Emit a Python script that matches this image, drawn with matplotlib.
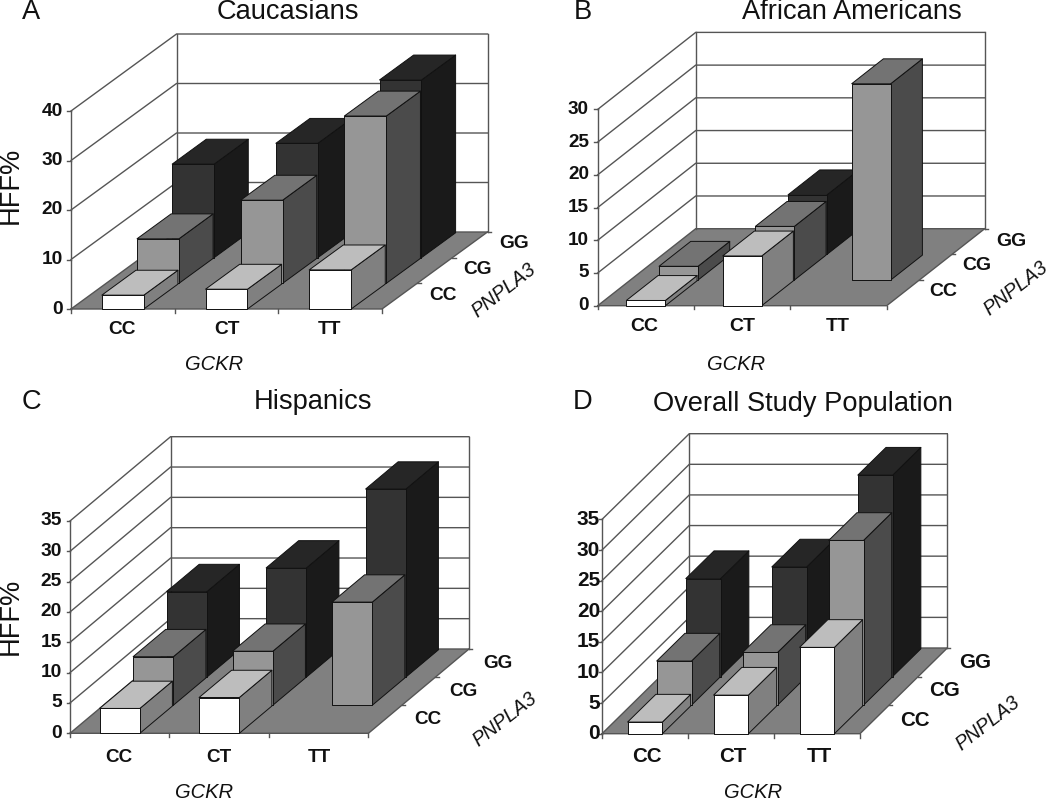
import matplotlib
matplotlib.use("Agg")
import matplotlib.pyplot as plt
from matplotlib.patches import Polygon

plt.rcParams['font.family'] = ['Liberation Sans', 'DejaVu Sans']

W, H = 1050, 800

gckr = ['CC', 'CT', 'TT']
pnpla3 = ['CC', 'CG', 'GG']

# HFF% values: one list per PNPLA3 row, ordered by GCKR CC, CT, TT
a_cc = [2.8, 4.0, 7.9]
a_cg = [9.0, 16.8, 33.8]
a_gg = [18.9, 23.1, 35.9]
a_ticks = [0, 10, 20, 30, 40]

b_cc = [0.8, 7.6, 0]
b_cg = [2.1, 8.2, 30.0]
b_gg = [0, 9.1, 0]
b_ticks = [0, 5, 10, 15, 20, 25, 30]

c_cc = [4.1, 5.9, 0]
c_cg = [8.0, 8.9, 17.0]
c_gg = [14.1, 18.0, 31.0]
c_ticks = [0, 5, 10, 15, 20, 25, 30, 35]

d_cc = [1.9, 6.3, 14.1]
d_cg = [7.2, 8.6, 26.9]
d_gg = [16.0, 17.9, 32.9]
d_ticks = [0, 5, 10, 15, 20, 25, 30, 35]

COL = {
    0: dict(front='#ffffff', top='#bdbdbd', side='#808080'),
    1: dict(front='#969696', top='#737373', side='#4b4b4b'),
    2: dict(front='#333333', top='#262626', side='#1a1a1a'),
}
FLOOR = '#808080'
GRID = '#555555'
EDGE = '#111111'
GLW = 1.0

panels = [
    dict(letter='A', title='Caucasians', rows=[a_cc, a_cg, a_gg], ticks=a_ticks,
         ox=71, oy=309, w=311, h=198, dx=105.5, dy=77, bw=0.405, ylabel=(11, 185),
         letter_xy=(31, 12), title_xy=(288, 12), gckr_xy=(214, 364), pn_xy=(504, 290),
         xl=[122, 227, 330], xl_y=329,
         dl=[(443, 296), (478, 269), (514, 243)], tick_r=63, fs_tick=13.8, fs_lab=13.8),
    dict(letter='B', title='African Americans', rows=[b_cc, b_cg, b_gg], ticks=b_ticks,
         ox=597.7, oy=305.7, w=289, h=196.3, dx=98, dy=77, bw=0.405, ylabel=None,
         letter_xy=(583, 12), title_xy=(852, 12), gckr_xy=(736, 364), pn_xy=(1016, 288),
         xl=[644, 742, 838], xl_y=327,
         dl=[(943, 292), (977, 266), (1011, 241)], tick_r=589, fs_tick=13.6, fs_lab=14),
    dict(letter='C', title='Hispanics', rows=[c_cc, c_cg, c_gg], ticks=c_ticks,
         ox=70, oy=733.3, w=298.4, h=212.3, dx=100.6, dy=84.3, bw=0.405, ylabel=(11, 616),
         letter_xy=(31, 402), title_xy=(313, 402), gckr_xy=(203.5, 792), pn_xy=(505, 719),
         xl=[119, 219, 319], xl_y=757,
         dl=[(428, 720), (463, 691), (498, 663)], tick_r=62, fs_tick=13.8, fs_lab=13.6),
    dict(letter='D', title='Overall Study Population', rows=[d_cc, d_cg, d_gg], ticks=d_ticks,
         ox=602, oy=733.7, w=258, h=214.3, dx=87.3, dy=85.7, bw=0.405, ylabel=None,
         letter_xy=(583, 402), title_xy=(803, 404), gckr_xy=(753, 792), pn_xy=(988, 723),
         xl=[647, 733, 819], xl_y=757,
         dl=[(915, 720), (945, 691), (975, 663)], tick_r=600, fs_tick=15, fs_lab=14.8),
]

fig = plt.figure(figsize=(W / 100, H / 100), dpi=100, facecolor='white')


def ftext(xy, s, **kw):
    fig.text(xy[0] / W, 1 - xy[1] / H, s, ha='center', va='center', **kw)


for p in panels:
    vmax = p['ticks'][-1]
    ax = fig.add_axes([p['ox'] / W, 1 - p['oy'] / H,
                       (p['w'] + p['dx']) / W, (p['h'] + p['dy']) / H])
    sx = p['dx'] / p['w']                 # category units per depth row
    sy = (p['dy'] / 3) / (p['h'] / vmax)  # value units per depth row
    ax.set_xlim(0, 3 + 3 * sx)
    ax.set_ylim(0, vmax + 3 * sy)
    ax.axis('off')

    def proj(cat, row, val):
        return (cat + row * sx, val + row * sy)

    # floor
    ax.add_patch(Polygon([proj(0, 0, 0), proj(3, 0, 0), proj(3, 3, 0), proj(0, 3, 0)],
                         fc=FLOOR, ec='none', zorder=1))
    # walls and gridlines
    for t in p['ticks']:
        ax.plot(*zip(proj(0, 0, t), proj(0, 3, t), proj(3, 3, t)),
                color=GRID, lw=GLW, zorder=1.5, clip_on=False, solid_joinstyle='miter')
        ax.plot(*zip(proj(0, 0, t), (proj(0, 0, t)[0] - 0.035, t)),
                color=GRID, lw=GLW, clip_on=False, zorder=1.5)
        ax.annotate(str(t), xy=(0, t), xycoords='data',
                    xytext=(p['tick_r'] - p['ox'], 0), textcoords='offset pixels',
                    ha='right', va='center', fontsize=p['fs_tick'], fontweight='bold',
                    color='#111111', annotation_clip=False)
    ax.plot(*zip(proj(0, 0, 0), proj(0, 0, vmax)), color=GRID, lw=GLW, clip_on=False, zorder=1.5)
    ax.plot(*zip(proj(0, 3, 0), proj(0, 3, vmax)), color=GRID, lw=GLW, clip_on=False, zorder=1.5)
    ax.plot(*zip(proj(3, 3, 0), proj(3, 3, vmax)), color=GRID, lw=GLW, clip_on=False, zorder=1.5)
    ax.plot(*zip(proj(0, 0, 0), proj(3, 0, 0), proj(3, 3, 0)), color=GRID, lw=GLW,
            clip_on=False, zorder=1.5)
    # axis ticks
    for c in range(4):
        x, y = proj(c, 0, 0)
        ax.plot([x, x], [y, y - vmax * 0.018], color=GRID, lw=GLW, clip_on=False)
    for r in range(1, 4):
        x, y = proj(3, r, 0)
        ax.plot([x, x + 0.035], [y, y], color=GRID, lw=GLW, clip_on=False)

    # bars, painted back to front, left to right
    bw = p['bw']
    z = 2
    for r in [2, 1, 0]:
        for c, v in enumerate(p['rows'][r]):
            if v <= 0:
                continue
            x0 = c + 0.5 - bw / 2
            x1 = x0 + bw
            r0, r1 = r, r + 0.97
            col = COL[r]
            faces = [
                ([proj(x1, r0, 0), proj(x1, r1, 0), proj(x1, r1, v), proj(x1, r0, v)], col['side']),
                ([proj(x0, r0, v), proj(x1, r0, v), proj(x1, r1, v), proj(x0, r1, v)], col['top']),
                ([proj(x0, r0, 0), proj(x1, r0, 0), proj(x1, r0, v), proj(x0, r0, v)], col['front']),
            ]
            for pts, fc in faces:
                ax.add_patch(Polygon(pts, fc=fc, ec=EDGE, lw=0.7, zorder=z, clip_on=False,
                                     joinstyle='round'))
            z += 0.01

    # labels
    for s, x in zip(gckr, p['xl']):
        ftext((x, p['xl_y']), s, fontsize=p['fs_lab'], fontweight='bold', color='#111111')
    for s, xy in zip(pnpla3, p['dl']):
        ftext(xy, s, fontsize=p['fs_lab'], fontweight='bold', color='#111111')
    ftext(p['gckr_xy'], 'GCKR', fontsize=14.5, fontstyle='italic', color='#111111')
    ftext(p['pn_xy'], 'PNPLA3', fontsize=14.2, fontstyle='italic', rotation=38,
          rotation_mode='anchor', color='#111111')
    ftext(p['letter_xy'], p['letter'], fontsize=19.6, color='#111111')
    ftext(p['title_xy'], p['title'], fontsize=19.6, color='#111111')
    if p['ylabel']:
        ftext(p['ylabel'], 'HFF%', fontsize=19.6, rotation=90, color='#111111')

fig.savefig('out.png', dpi=100, facecolor='white')
